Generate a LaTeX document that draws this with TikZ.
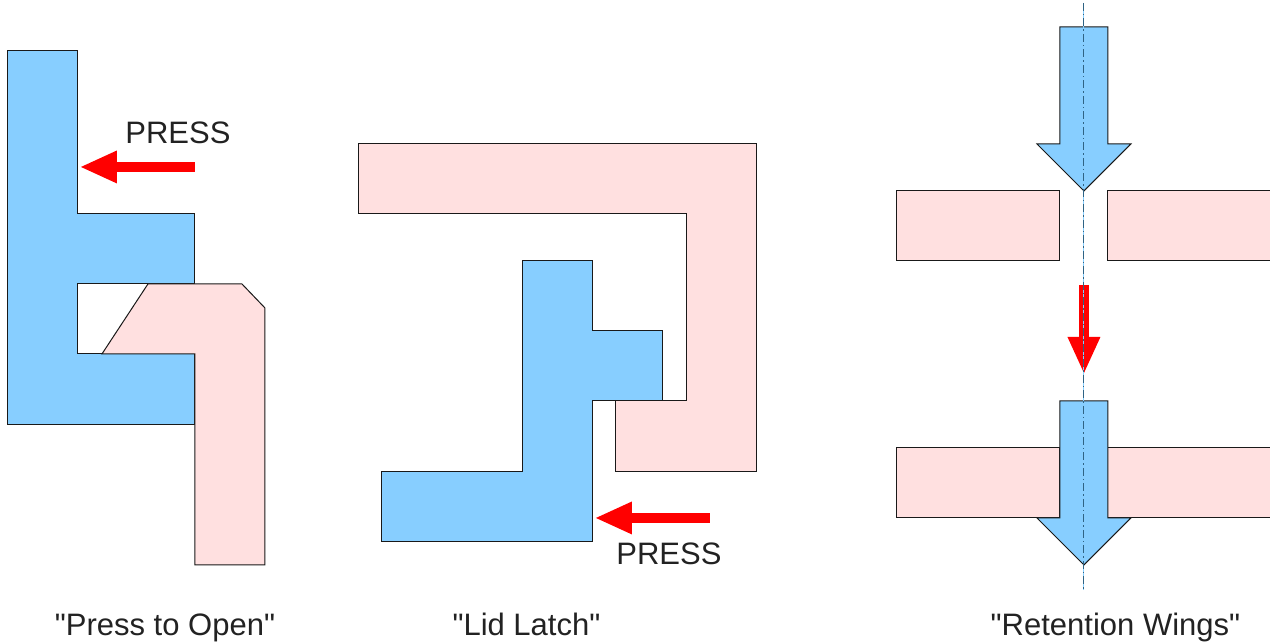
\documentclass[tikz,border=0pt]{standalone}
\usepackage{fontspec}
\setmainfont{Liberation Sans}[Ligatures=TeXOff]
\usetikzlibrary{arrows.meta}
\definecolor{latchblue}{HTML}{87CEFF}
\definecolor{latchpink}{HTML}{FFE0E0}
\definecolor{axisblue}{HTML}{2F6384}
\definecolor{labelgray}{HTML}{222222}
\tikzset{
	blue part/.style={draw=black!90,fill=latchblue,line width=1pt,line join=miter},
	pink part/.style={draw=black!90,fill=latchpink,line width=1pt,line join=miter},
	press arrow/.style={draw=red,line width=9.5pt,-{Triangle[length=36pt,width=33pt,line width=0pt,fill=red]}},
	label text/.style={text=labelgray,font=\fontsize{31}{36}\selectfont,inner sep=0pt,anchor=base}
}
\begin{document}
\begin{tikzpicture}[x=1pt,y=-1pt]
	\useasboundingbox (.04,.04) rectangle (1270.04,643.04);
	% press to open
	\draw[black,line width=1pt,fill=white] (78,284) rectangle (195,354);
	\draw[blue part] (8,51) -- (78,51) -- (78,214) -- (195,214) -- (195,284) -- (78,284) -- (78,354) -- (195,354) -- (195,425) -- (8,425) -- cycle;
	\draw[pink part] (148,284) -- (242,284) -- (265,308) -- (265,565) -- (195,565) -- (195,354) -- (102,354) -- cycle;
	\coordinate (open tail) at (195,167);
	\coordinate (open head) at (81,167);
	\draw[press arrow] (open tail) -- (open head);
	\node[label text] (open press) at (178,144) {PRESS};
	\node[label text] (open label) at (165,636) {"Press to Open"};
	% lid latch
	\draw[pink part] (359,144) -- (757,144) -- (757,472) -- (616,472) -- (616,401) -- (687,401) -- (687,214) -- (359,214) -- cycle;
	\draw[blue part] (523,261) -- (593,261) -- (593,331) -- (663,331) -- (663,401) -- (593,401) -- (593,542) -- (382,542) -- (382,472) -- (523,472) -- cycle;
	\coordinate (lid tail) at (710,518);
	\coordinate (lid head) at (596,518);
	\draw[press arrow] (lid tail) -- (lid head);
	\node[label text] (lid press) at (669,565) {PRESS};
	\node[label text] (lid label) at (526.5,636) {"Lid Latch"};
	% retention wings
	\foreach \y in {191,448}
		{
			\draw[pink part] (897,\y) rectangle (1060,\y+70);
			\draw[pink part] (1108,\y) rectangle (1271,\y+70);
		}
	\foreach \y in {27,401}
		\draw[blue part] (1060,\y) -- (1108,\y) -- (1108,\y+117) -- (1131,\y+117) -- (1084,\y+164) -- (1037,\y+117) -- (1060,\y+117) -- cycle;
	\coordinate (wings tail) at (1084,285);
	\coordinate (wings head) at (1084,373);
	\draw[press arrow] (wings tail) -- (wings head);
	\coordinate (axis top) at (1084,3);
	\coordinate (axis bottom) at (1084,590);
	\draw[latchblue,line width=1pt] (axis top) -- (axis bottom);
	\draw[axisblue,line width=1pt,dash pattern=on 8pt off 3pt on 1.5pt off 3pt] (axis top) -- (axis bottom);
	\node[label text] (wings label) at (1115.5,636) {"Retention Wings"};
\end{tikzpicture}
\end{document}
